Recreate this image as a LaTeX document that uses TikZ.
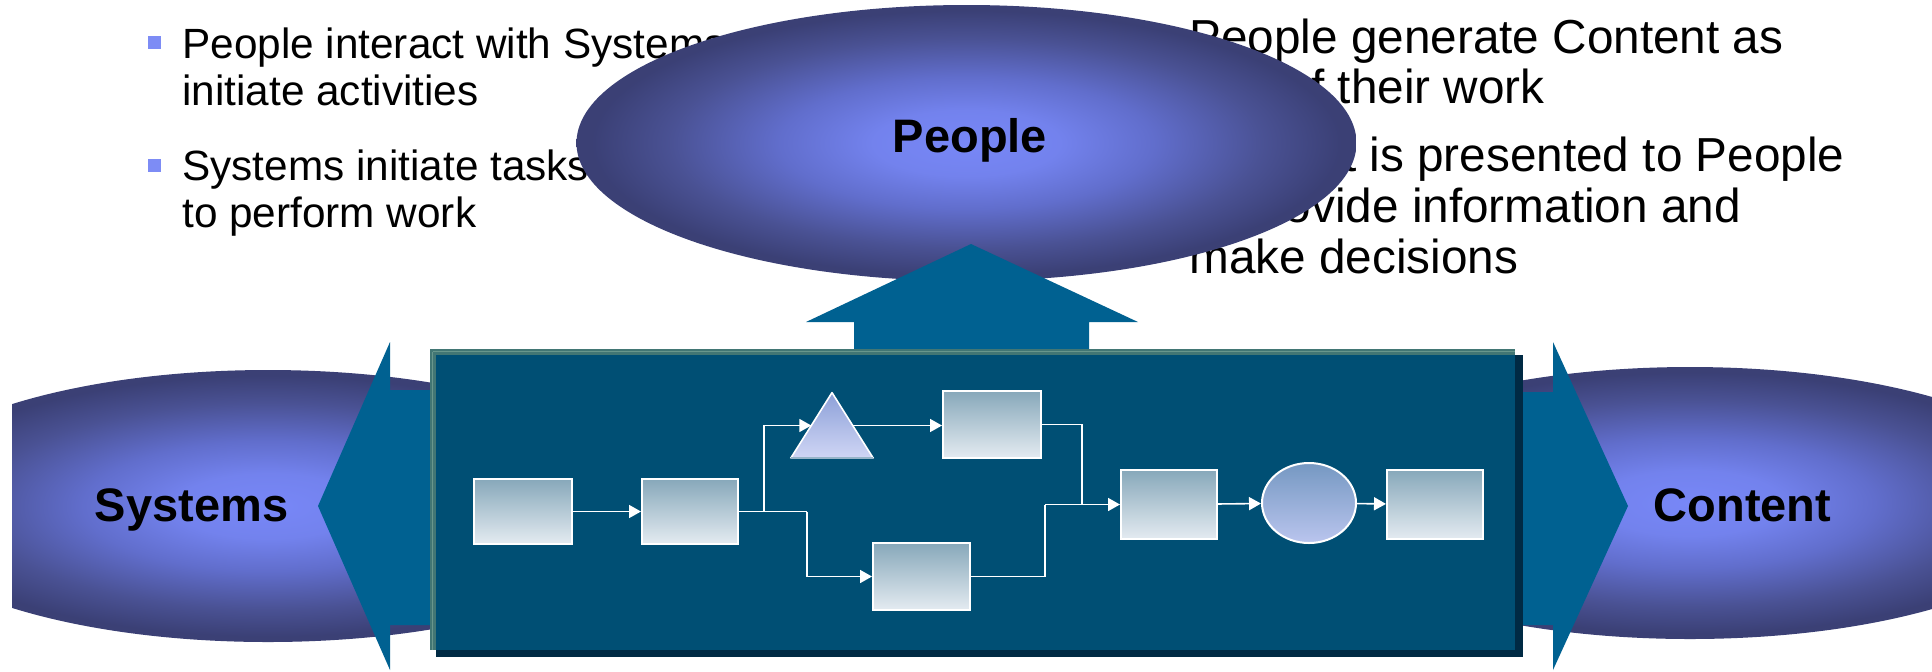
\documentclass[tikz,border=0pt]{standalone}
\usepackage{fontspec}
\setmainfont{Liberation Sans}
\usetikzlibrary{arrows.meta,shapes.geometric,calc}
\definecolor{arrowteal}{RGB}{0,97,145}
\definecolor{procblue}{RGB}{0,79,116}
\definecolor{procshadow}{RGB}{0,42,68}
\definecolor{bevelcol}{RGB}{66,118,116}
\definecolor{bevellight}{RGB}{104,150,140}
\definecolor{bulletblue}{RGB}{125,140,245}
\definecolor{boxtop}{RGB}{135,168,186}
\definecolor{boxmid}{RGB}{196,213,222}
\definecolor{boxbot}{RGB}{228,235,241}
\definecolor{tritop}{RGB}{140,160,216}
\definecolor{tribot}{RGB}{208,214,245}
\definecolor{triedge}{RGB}{150,180,200}
\definecolor{eltop}{RGB}{117,152,194}
\definecolor{elbot}{RGB}{186,197,238}
\pgfdeclareradialshading{blob}{\pgfpointorigin}{rgb(0bp)=(0.47,0.53,0.97); rgb(6bp)=(0.45,0.51,0.93); rgb(12bp)=(0.38,0.43,0.80); rgb(19bp)=(0.29,0.32,0.58); rgb(24bp)=(0.23,0.25,0.46); rgb(50bp)=(0.23,0.25,0.46)}
\begin{document}
\begin{tikzpicture}[x=0.5pt,y=-0.5pt,
  blobnode/.style={ellipse, shading=blob, draw=none, inner sep=0pt, minimum width=386.5pt, minimum height=136pt},
  biglabel/.style={font=\fontsize{23.5pt}{28pt}\selectfont\bfseries, inner sep=0pt, anchor=base},
  lefttext/.style={font=\fontsize{21.15pt}{23.5pt}\selectfont, inner sep=0pt, anchor=base west},
  righttext/.style={font=\fontsize{23.85pt}{25pt}\selectfont, inner sep=0pt, anchor=base west},
  bulletsq/.style={fill=bulletblue, draw=none, inner sep=0pt, minimum size=6.5pt},
  bigarrow/.style={fill=arrowteal, draw=none},
  stepbox/.style={rectangle, draw=white, line width=1pt, inner sep=0pt, top color=boxtop, middle color=boxmid, bottom color=boxbot},
  flow/.style={draw=white, line width=0.8pt},
  flowarrow/.style={flow, -{Triangle[length=6pt,width=6.5pt]}},
]
\useasboundingbox (0,0) rectangle (1932,671);
\fill[white] (0,0) rectangle (1932,671);

% bullet texts
\node[bulletsq] (bu1) at (154.5,42.5) {};
\node[lefttext] (l1) at (182,58) {People interact with Systems to};
\node[lefttext] (l2) at (182,105) {initiate activities};
\node[bulletsq] (bu2) at (154.5,165.5) {};
\node[lefttext] (l3) at (182,180) {Systems initiate tasks};
\node[lefttext] (l4) at (182,227) {to perform work};

\node[righttext] (r1) at (1189,53) {People generate Content as};
\node[righttext] (r2) at (1189,103) {part of their work};
\node[righttext] (r3) at (1189,171) {Content is presented to People};
\node[righttext] (r4) at (1189,222) {to provide information and};
\node[righttext] (r5) at (1189,273) {make decisions};

% ellipses
\begin{scope}
\clip (12,0) rectangle (1932,671);
\node[blobnode] (sys) at (268,506) {};
\node[blobnode] (con) at (1690,503) {};
\end{scope}
\node[blobnode, minimum width=390pt, minimum height=138pt] (peo) at (966.5,143) {};
\node[biglabel] (peolab) at (970,152) {People};
\node[biglabel] (syslab) at (191.5,521) {Systems};
\node[biglabel] (conlab) at (1742.5,521) {Content};

% big arrows
\fill[bigarrow] (318,506) -- (390,342) -- (390,390) -- (440,390) -- (440,625) -- (390,625) -- (390,670) -- cycle;
\fill[bigarrow] (1628,506) -- (1553,342) -- (1553,392) -- (1510,392) -- (1510,625) -- (1553,625) -- (1553,670) -- cycle;
\fill[bigarrow] (971,244) -- (1138,322) -- (1089,322) -- (1089,355) -- (854,355) -- (854,322) -- (806,322) -- cycle;

% process panel
\fill[procshadow] (436,355) rectangle (1523,657);
\node[fill=procblue, draw=none, inner sep=0pt, minimum width=542.5pt, minimum height=150.5pt] (proc) at (972.5,499.5) {};
\fill[bevelcol] (proc.north west) rectangle ($(proc.north east)+(0,6)$);
\fill[bevelcol] (proc.north west) rectangle ($(proc.south west)+(6,0)$);
\draw[bevellight, line width=0.8pt] ($(proc.north west)+(3,3)$) -- ($(proc.north east)+(0,3)$);
\draw[bevellight, line width=0.8pt] ($(proc.north west)+(3,3)$) -- ($(proc.south west)+(3,0)$);

% flow chart
\node[stepbox, minimum width=49pt, minimum height=32.5pt] (b1) at (523,511.5) {};
\node[stepbox, minimum width=48pt, minimum height=32.5pt] (b2) at (690,511.5) {};
\node[stepbox, minimum width=49pt, minimum height=33.5pt] (b3) at (992,424.5) {};
\node[stepbox, minimum width=48.5pt, minimum height=33.5pt] (b4) at (921.5,576.5) {};
\node[stepbox, minimum width=48pt, minimum height=34.5pt] (b5) at (1169,504.5) {};
\node[stepbox, minimum width=48pt, minimum height=34.5pt] (b6) at (1435,504.5) {};
\node[ellipse, draw=white, line width=1pt, inner sep=0pt, top color=eltop, bottom color=elbot, minimum width=47pt, minimum height=40pt] (el) at (1309,503) {};
\node[inner sep=0pt, minimum width=41pt, minimum height=32.5pt] (tri) at (832,425.5) {};
\shade[top color=tritop, bottom color=tribot] (tri.north) -- (tri.south east) -- (tri.south west) -- cycle;
\draw[white, line width=0.8pt, line join=round] (tri.south west) -- (tri.north) -- (tri.south east);
\draw[triedge, line width=1pt] (tri.south west) -- (tri.south east);

\coordinate (j1) at (764,511.5);
\coordinate (j2) at (807,511.5);
\coordinate (triL) at ($(tri.north)!0.5!(tri.south west)$);
\coordinate (triR) at ($(tri.north)!0.5!(tri.south east)$);
\coordinate (j3) at (1082,504.5);
\coordinate (j4) at (1045,504.5);

\draw[flowarrow] (b1) -- (b2);
\draw[flowarrow] (b2.east) -- (j1) |- (triL);
\draw[flow] (j1) -- (j2);
\draw[flowarrow] (j2) |- (b4.west);
\draw[flowarrow] (triR) -- (triR -| b3.west);
\draw[flow] (b3.east) -| (j3);
\draw[flow] (b4.east) -| (j4);
\draw[flowarrow] (j4) -- (b5.west);
\draw[flowarrow] (b5) -- (el);
\draw[flowarrow] (el) -- (b6);
\end{tikzpicture}
\end{document}
